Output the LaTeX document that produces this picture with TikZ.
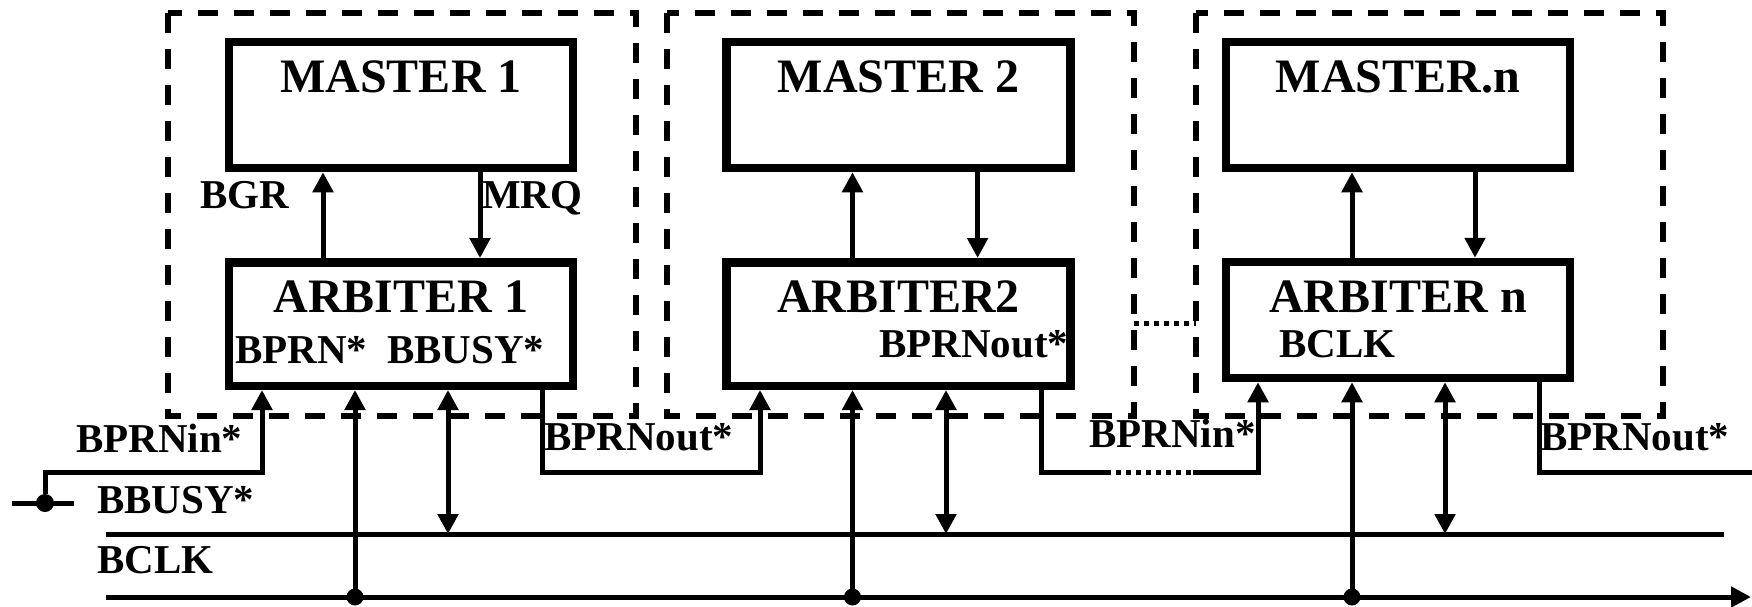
\documentclass[tikz,border=0pt]{standalone}
\usepackage{fontspec}
\setmainfont{Liberation Serif}
\usetikzlibrary{arrows.meta}

\begin{document}
\begin{tikzpicture}[x=1pt, y=-1pt, >={Triangle[length=20pt,width=20pt]},
  unit/.style={draw, line width=8.5pt, minimum width=344pt, inner sep=0pt},
  group/.style={line width=5.5pt, dash pattern=on 20pt off 16pt},
  gap/.style={line width=5pt, dash pattern=on 5pt off 5pt},
  sig/.style={line width=5pt},
  title/.style={font=\fontsize{48}{50}\selectfont\bfseries, anchor=base, inner sep=0pt},
  tag/.style={font=\fontsize{41}{43}\selectfont\bfseries, anchor=base west, inner sep=0pt},
  tap/.style={circle, fill, inner sep=0pt, minimum size=17pt}]
  \useasboundingbox (0,0) rectangle (1752,607);

  % Dashed frames round each master/arbiter pair, dotted gap between 2 and n.
  \draw[group] (168,13) rectangle (636,416);
  \draw[group] (667,13) rectangle (1134,416);
  \draw[group] (1196,13) rectangle (1663,416);
  \draw[gap] (1134,323) -- (1196,323);

  % Masters and arbiters.
  \node[unit, minimum height=126pt] (m1) at (401,105) {};
  \node[unit, minimum height=126pt] (m2) at (898.5,105) {};
  \node[unit, minimum height=126pt] (mn) at (1398,105) {};
  \node[unit, minimum height=123.5pt] (a1) at (401,324) {};
  \node[unit, minimum height=123.5pt] (a2) at (898.5,324) {};
  \node[unit, minimum height=116pt] (an) at (1398,320) {};

  \node[title] (tm1) at (401,93) {MASTER 1};
  \node[title] (tm2) at (898.5,93) {MASTER 2};
  \node[title] (tmn) at (1398,93) {MASTER.n};
  \node[title] (ta1) at (401,312) {ARBITER 1};
  \node[title] (ta2) at (898.5,312) {ARBITER2};
  \node[title] (tan) at (1398,312) {ARBITER n};

  % Grant up, request down between each master and its arbiter.
  \foreach \b/\u/\d in {1/323/480, 2/852.5/977.6, n/1352/1475} {
    \coordinate (up\b) at (\u,0);
    \coordinate (dn\b) at (\d,0);
    \draw[sig,->] (a\b.north -| up\b) -- (m\b.south -| up\b);
    \draw[sig,->] (m\b.south -| dn\b) -- (a\b.north -| dn\b);
  }

  % Bus lines.
  \coordinate (busyW) at (106,534);
  \coordinate (busyE) at (1724,534);
  \coordinate (clkW) at (106,597);
  \coordinate (clkE) at (1751,597);
  \draw[sig] (busyW) -- (busyE);
  \draw[sig,->] (clkW) -- (clkE);

  % Taps of each arbiter on BCLK and BBUSY*.
  \foreach \b/\i/\k/\s/\o in {1/262/355/448/542, 2/760/852.5/946/1041, n/1258/1352/1445/1539} {
    \coordinate (in\b) at (\i,472);
    \coordinate (out\b) at (\o,472);
    \coordinate (clk\b) at (\k,597);
    \coordinate (busy\b) at (\s,534);
    \draw[sig,->] (clk\b) -- (clk\b |- a\b.south);
    \draw[sig,<->] (busy\b) -- (busy\b |- a\b.south);
    \node[tap] (dot\b) at (clk\b) {};
  }

  % Priority chain BPRNin*/BPRNout*.
  \coordinate (chainA) at (1106,472);
  \coordinate (chainB) at (1193,472);
  \coordinate (chainE) at (1752,472);
  \node[tap, minimum size=18pt] (dotL) at (45,503) {};
  \draw[sig] (12,503) coordinate (stubW) -- (74,503) coordinate (stubE);
  \draw[sig,->] (dotL) |- (in1) -- (in1 |- a1.south);
  \draw[sig,->] (out1 |- a1.south) -- (out1) -- (in2) -- (in2 |- a2.south);
  \draw[sig] (out2 |- a2.south) -- (out2) -- (chainA);
  \draw[gap] (chainA) -- (chainB);
  \draw[sig,->] (chainB) -- (inn) -- (inn |- an.south);
  \draw[sig] (outn |- an.south) -- (outn) -- (chainE);

  % Signal names.
  \node[tag] (lbgr) at (200,208) {BGR};
  \node[tag] (lmrq) at (482,208) {MRQ};
  \node[tag] (lprn) at (235,363) {BPRN*};
  \node[tag] (lbusy) at (387,363) {BBUSY*};
  \node[tag] (lout2) at (879,357) {BPRNout*};
  \node[tag] (lclkn) at (1279,357) {BCLK};
  \node[tag] (lin1) at (76,452) {BPRNin*};
  \node[tag] (lout1) at (544,450) {BPRNout*};
  \node[tag] (linn) at (1089,447) {BPRNin*};
  \node[tag] (loutn) at (1540,450) {BPRNout*};
  \node[tag] (lbbusy) at (97,513) {BBUSY*};
  \node[tag] (lbclk) at (97,573) {BCLK};
\end{tikzpicture}
\end{document}
